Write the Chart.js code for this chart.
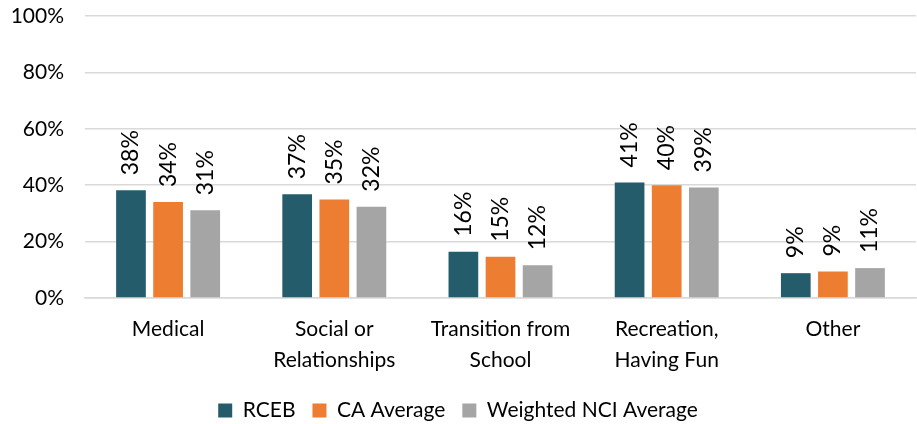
<!DOCTYPE html>
<html>
<head>
    <meta charset="utf-8">
    <title>Reasons chart</title>
    <style>
        body { margin: 0; background: #fff; }
        #chart-container { width: 917px; height: 424px; }
    </style>
</head>
<body>
    <div id="chart-container">
        <canvas id="myChart" width="917" height="424"></canvas>
    </div>
    <script src="https://cdn.jsdelivr.net/npm/chart.js"></script>
    <script>
        const categories = [['Medical'], ['Social or', 'Relationships'], ['Transition from', 'School'], ['Recreation,', 'Having Fun'], ['Other']];
        const seriesNames = ['RCEB', 'CA Average', 'Weighted NCI Average'];
        const rcebValues = [38.2, 36.8, 16.4, 41.0, 8.8];
        const caValues = [34.0, 34.9, 14.6, 40.0, 9.4];
        const nciValues = [31.1, 32.4, 11.6, 39.2, 10.6];
        const yTicks = [0, 20, 40, 60, 80, 100];

        const fontFamily = 'Lato, "Open Sans", sans-serif';

        // draws the rotated percent labels above each bar
        const barLabels = {
            id: 'barLabels',
            afterDatasetsDraw(chart) {
                const ctx = chart.ctx;
                ctx.save();
                ctx.fillStyle = '#000';
                ctx.font = '23px ' + fontFamily;
                ctx.textAlign = 'left';
                ctx.textBaseline = 'middle';
                chart.data.datasets.forEach((ds, i) => {
                    chart.getDatasetMeta(i).data.forEach((bar, j) => {
                        ctx.save();
                        ctx.translate(bar.x, bar.y - 15);
                        ctx.rotate(-Math.PI / 2);
                        ctx.fillText(Math.round(ds.data[j]) + '%', 0, 0);
                        ctx.restore();
                    });
                });
                ctx.restore();
            }
        };

        const data = {
            labels: categories,
            datasets: [
                { label: seriesNames[0], data: rcebValues, backgroundColor: '#245C6C' },
                { label: seriesNames[1], data: caValues, backgroundColor: '#ED7D31' },
                { label: seriesNames[2], data: nciValues, backgroundColor: '#A5A5A5' }
            ]
        };

        const options = {
            responsive: false,
            animation: false,
            categoryPercentage: 0.67,
            barPercentage: 0.8,
            layout: { padding: { top: 16, right: 1, left: 0, bottom: -7 } },
            scales: {
                y: {
                    min: 0,
                    max: 100,
                    afterBuildTicks: (axis) => { axis.ticks = yTicks.map(v => ({ value: v })); },
                    afterFit: (axis) => { axis.width = 85; },
                    ticks: {
                        callback: (v) => v + '%',
                        color: '#000',
                        padding: 0,
                        font: { family: fontFamily, size: 21 }
                    },
                    grid: { color: '#d9d9d9', lineWidth: 1.5, drawTicks: true, tickLength: 21, tickColor: 'rgba(0,0,0,0)' },
                    border: { display: false }
                },
                x: {
                    ticks: {
                        color: '#000',
                        padding: 7,
                        maxRotation: 0,
                        font: { family: fontFamily, size: 21, lineHeight: 1.5 }
                    },
                    grid: { display: false },
                    border: { color: '#d9d9d9', width: 1.5 }
                }
            },
            plugins: {
                legend: {
                    position: 'bottom',
                    labels: {
                        color: '#000',
                        boxWidth: 14,
                        boxHeight: 14,
                        padding: 17,
                        font: { family: fontFamily, size: 21 }
                    }
                },
                tooltip: { enabled: false }
            }
        };

        const ctx = document.getElementById('myChart').getContext('2d');
        const myChart = new Chart(ctx, {
            type: 'bar',
            data: data,
            options: options,
            plugins: [barLabels]
        });
    </script>
</body>
</html>
